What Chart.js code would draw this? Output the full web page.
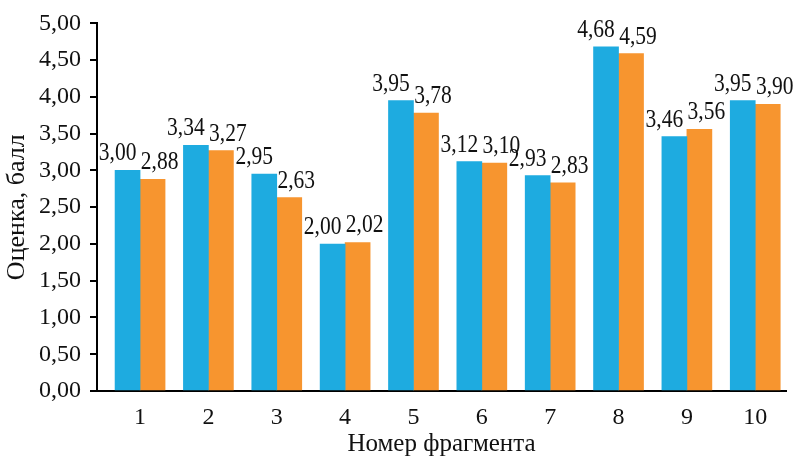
<!DOCTYPE html>
<html>
<head>
<meta charset="utf-8">
<script src="https://cdn.jsdelivr.net/npm/chart.js@4/dist/chart.umd.min.js"></script>
<style>
  html, body { margin: 0; padding: 0; background: #fff; }
  #wrap { width: 795px; height: 457px; }
</style>
</head>
<body>
<div id="wrap"><canvas id="c" width="795" height="457"></canvas></div>
<script>
const categories = ['1', '2', '3', '4', '5', '6', '7', '8', '9', '10'];
const seriesA = [3.00, 3.34, 2.95, 2.00, 3.95, 3.12, 2.93, 4.68, 3.46, 3.95];
const seriesB = [2.88, 3.27, 2.63, 2.02, 3.78, 3.10, 2.83, 4.59, 3.56, 3.90];
const yTicks = [0, 0.5, 1, 1.5, 2, 2.5, 3, 3.5, 4, 4.5, 5];

const BLUE = '#1eabe0';
const ORANGE = '#f7952f';
const FONT = '"Liberation Serif", "Times New Roman", serif';
const X_MIN = 0.37, X_MAX = 10.45;

const fmt = v => v.toFixed(2).replace('.', ',');

const labelPlugin = {
  id: 'barLabels',
  afterDatasetsDraw(chart) {
    const ctx = chart.ctx;
    const offsets = [-10, 7];
    chart.data.datasets.forEach((ds, di) => {
      const meta = chart.getDatasetMeta(di);
      meta.data.forEach((el, i) => {
        ctx.save();
        ctx.translate(el.x + offsets[di], el.y - 10);
        ctx.scale(0.86, 1);
        ctx.font = '25px ' + FONT;
        ctx.fillStyle = '#111';
        ctx.textAlign = 'center';
        ctx.textBaseline = 'alphabetic';
        ctx.fillText(fmt(ds.data[i].y), 0, 0);
        ctx.restore();
      });
    });
  }
};

new Chart(document.getElementById('c'), {
  type: 'bar',
  data: {
    datasets: [
      { data: seriesA.map((v, i) => ({ x: i + 1, y: v })), backgroundColor: BLUE, borderWidth: 0 },
      { data: seriesB.map((v, i) => ({ x: i + 1, y: v })), backgroundColor: ORANGE, borderWidth: 0 }
    ]
  },
  options: {
    responsive: false,
    animation: false,
    layout: { padding: { top: 20, right: 9, left: 0, bottom: 0 } },
    plugins: { legend: { display: false }, tooltip: { enabled: false } },
    datasets: { bar: { barThickness: 25 } },
    scales: {
      x: {
        type: 'linear',
        offset: false,
        min: X_MIN,
        max: X_MAX,
        afterBuildTicks: s => { s.ticks = [{ value: X_MIN }].concat(categories.map((c, i) => ({ value: i + 1 }))); },
        afterFit: s => { s.height = 66; },
        ticks: {
          autoSkip: false,
          maxRotation: 0,
          padding: 5,
          color: '#111',
          font: { family: FONT, size: 24 },
          callback: (v) => {
            const idx = Math.round(v) - 1;
            return (Math.abs(v - Math.round(v)) < 1e-6 && categories[idx] !== undefined) ? categories[idx] : '';
          }
        },
        grid: {
          display: true,
          drawOnChartArea: false,
          drawTicks: true,
          tickLength: 7,
          lineWidth: 2,
          color: c => (c.tick && c.tick.value === X_MIN) ? '#000' : 'rgba(0,0,0,0)'
        },
        border: { display: true, color: '#000', width: 2 },
        title: {
          display: true,
          text: 'Номер фрагмента',
          color: '#111',
          font: { family: FONT, size: 25, lineHeight: 1.0 },
          padding: { top: 0, bottom: 0 }
        }
      },
      y: {
        min: 0,
        max: 5,
        afterBuildTicks: s => { s.ticks = yTicks.map(v => ({ value: v })); },
        afterFit: s => { s.width = 97; },
        ticks: {
          padding: 9,
          color: '#111',
          font: { family: FONT, size: 24 },
          callback: v => fmt(v)
        },
        grid: {
          display: true,
          drawOnChartArea: false,
          drawTicks: true,
          tickLength: 7,
          lineWidth: 2,
          color: '#000'
        },
        border: { display: true, color: '#000', width: 2 },
        title: {
          display: true,
          text: 'Оценка, балл',
          color: '#111',
          font: { family: FONT, size: 26 },
          padding: { top: 2, bottom: 0 }
        }
      }
    }
  },
  plugins: [labelPlugin]
});
</script>
</body>
</html>
